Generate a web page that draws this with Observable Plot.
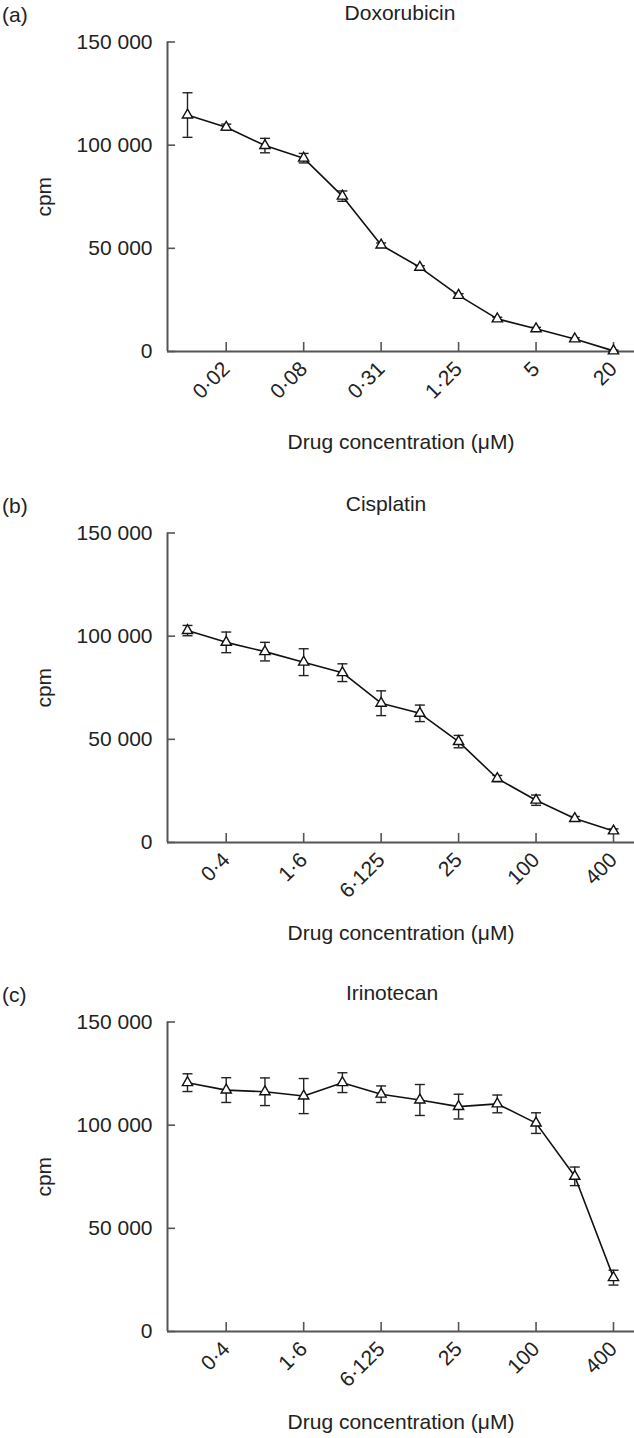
<!DOCTYPE html>
<html>
<head>
<meta charset="utf-8">
<script src="https://cdn.jsdelivr.net/npm/d3@7"></script>
<script src="https://cdn.jsdelivr.net/npm/@observablehq/plot@0.6"></script>
<style>
  body { margin: 0; background: #fff; }
  #page { position: relative; width: 634px; height: 1438px; overflow: hidden; font-family: "Liberation Sans", Arial, sans-serif; color: #222; }
  .panel { position: absolute; left: 0; width: 634px; }
  .tag { position: absolute; left: 2px; top: 3px; font-size: 21px; line-height: 24px; }
  .title { position: absolute; top: 1px; font-size: 21px; line-height: 24px; transform: translateX(-50%); white-space: nowrap; }
  .chart { position: absolute; left: 0; top: 28px; }
</style>
</head>
<body>
<div id="page"></div>
<script>
// ---- Data ----
const panelTags = ["(a)", "(b)", "(c)"];
const drugNames = ["Doxorubicin", "Cisplatin", "Irinotecan"];

const doxConc = [0.009765625, 0.01953125, 0.0390625, 0.078125, 0.15625, 0.3125, 0.625, 1.25, 2.5, 5, 10, 20];
const doxCpm  = [114600, 108700, 99800, 93700, 75300, 51600, 40800, 27200, 15800, 11000, 6100, 300];
const doxErr  = [10800, 1500, 3500, 2300, 2500, 1000, 800, 800, 800, 700, 600, 400];
const doxTicks = [0.01953125, 0.078125, 0.3125, 1.25, 5, 20];
const doxTickLabels = ["0·02", "0·08", "0·31", "1·25", "5", "20"];

const cisConc = [0.1953125, 0.390625, 0.78125, 1.5625, 3.125, 6.25, 12.5, 25, 50, 100, 200, 400];
const cisCpm  = [102700, 97000, 92500, 87400, 82300, 67500, 62600, 48900, 31000, 20500, 11600, 5600];
const cisErr  = [2500, 5000, 4500, 6500, 4300, 6000, 4000, 3000, 1500, 2500, 1000, 1000];

const iriConc = [0.1953125, 0.390625, 0.78125, 1.5625, 3.125, 6.25, 12.5, 25, 50, 100, 200, 400];
const iriCpm  = [120600, 117000, 116200, 114100, 120600, 115000, 112200, 109000, 110300, 101000, 75200, 26100];
const iriErr  = [4300, 6000, 6700, 8500, 4800, 4000, 7500, 6000, 4300, 5000, 4500, 3600];

const cisTicks = [0.390625, 1.5625, 6.25, 25, 100, 400];
const cisTickLabels = ["0·4", "1·6", "6·125", "25", "100", "400"];

const yTicks = [0, 50000, 100000, 150000];
const xLabel = "Drug concentration (μM)";
const yLabel = "cpm";

// ---- Layout ----
const panelTops = [0, 491, 980];
const titleCenters = [400, 386, 392];
const W = 634, H = 428, mLeft = 167, mTop = 13.5, mBottom = 105;
const stepPx = 38.73, padL = 20, padR = 21;

const capSymbol = { draw(ctx) { ctx.moveTo(-5, 0); ctx.lineTo(5, 0); } };
const fmtY = d => d === 0 ? "0" : d3.format(",")(d).replace(/,/g, " ");

function makePanel(conc, cpm, err, ticks, tickLabels) {
  const data = conc.map((c, i) => ({c, v: cpm[i], e: err[i]}));
  const labelMap = new Map(ticks.map((t, i) => [t, tickLabels[i]]));
  const x0 = conc[0] * Math.pow(2, -padL / stepPx);
  const x1 = conc[conc.length - 1] * Math.pow(2, padR / stepPx);
  return Plot.plot({
    width: W, height: H,
    marginLeft: mLeft, marginRight: 0, marginTop: mTop, marginBottom: mBottom,
    style: {fontFamily: "Liberation Sans, Arial, sans-serif", fontSize: "21px", color: "#222", background: "#fff", overflow: "visible"},
    x: {type: "log", base: 2, domain: [x0, x1]},
    y: {domain: [0, 150000]},
    marks: [
      Plot.axisY({ticks: yTicks, tickFormat: fmtY, tickSize: -8, tickPadding: 23, stroke: "#555", strokeWidth: 1.6,
                  label: yLabel, labelAnchor: "center", labelOffset: 131, labelArrow: "none"}),
      Plot.axisX({ticks: ticks, tickFormat: d => labelMap.get(d), tickSize: -9, tickPadding: 23, tickRotate: -45,
                  stroke: "#555", strokeWidth: 1.6, label: xLabel, labelAnchor: "center", labelOffset: 97, labelArrow: "none"}),
      Plot.ruleX([x0], {y1: 0, y2: 150000, stroke: "#555", strokeWidth: 2}),
      Plot.ruleY([0], {stroke: "#555", strokeWidth: 2}),
      Plot.ruleX(data, {x: "c", y1: d => d.v - d.e, y2: d => d.v + d.e, stroke: "#222", strokeWidth: 1.4}),
      Plot.dot(data, {x: "c", y: d => d.v + d.e, symbol: capSymbol, stroke: "#222", strokeWidth: 1.4}),
      Plot.dot(data, {x: "c", y: d => d.v - d.e, symbol: capSymbol, stroke: "#222", strokeWidth: 1.4}),
      Plot.line(data, {x: "c", y: "v", stroke: "#111", strokeWidth: 1.6}),
      Plot.dot(data, {x: "c", y: "v", symbol: "triangle", r: 3.8, fill: "#fff", stroke: "#111", strokeWidth: 1.4})
    ]
  });
}

const page = document.getElementById("page");
const panels = [
  makePanel(doxConc, doxCpm, doxErr, doxTicks, doxTickLabels),
  makePanel(cisConc, cisCpm, cisErr, cisTicks, cisTickLabels),
  makePanel(iriConc, iriCpm, iriErr, cisTicks, cisTickLabels)
];
panels.forEach((svg, i) => {
  const div = document.createElement("div");
  div.className = "panel";
  div.style.top = panelTops[i] + "px";
  const tag = document.createElement("div");
  tag.className = "tag"; tag.textContent = panelTags[i];
  const title = document.createElement("div");
  title.className = "title"; title.textContent = drugNames[i];
  title.style.left = titleCenters[i] + "px";
  const holder = document.createElement("div");
  holder.className = "chart";
  holder.appendChild(svg);
  div.appendChild(tag); div.appendChild(title); div.appendChild(holder);
  page.appendChild(div);
});
</script>
</body>
</html>
